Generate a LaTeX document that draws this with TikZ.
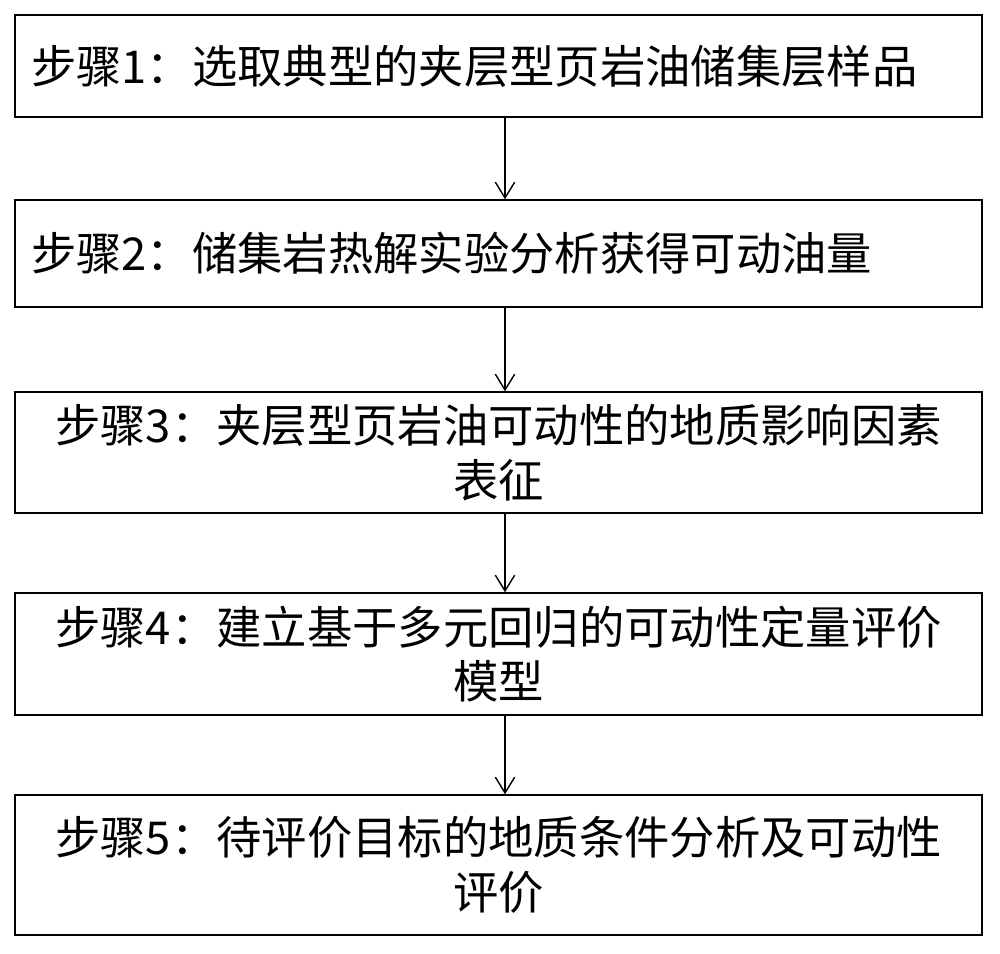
\documentclass[tikz,border=0pt]{standalone}
\usepackage{fontspec}
\setmainfont{Noto Sans CJK SC}
\usetikzlibrary{arrows.meta}
\begin{document}
\begin{tikzpicture}[x=0.02cm,y=-0.02cm,
  box/.style={draw,line width=0.8pt,minimum width=19.34cm,text width=18.7cm,inner xsep=0.32cm,
    font=\fontsize{25.8}{31}\selectfont},
  arr/.style={line width=0.8pt,-{Straight Barb[length=9pt,width=11pt]}}]
\useasboundingbox (0,0) rectangle (1000,953);
\node[box,minimum height=2.04cm,align=left] (b1) at (498.5,66) {步骤1：选取典型的夹层型页岩油储集层样品};
\node[box,minimum height=2.14cm,align=left] (b2) at (498.5,253.5) {步骤2：储集岩热解实验分析获得可动油量};
\node[box,minimum height=2.42cm,align=center] (b3) at (498.5,452.5) {步骤3：夹层型页岩油可动性的地质影响因素\\表征};
\node[box,minimum height=2.44cm,align=center] (b4) at (498.5,654) {步骤4：建立基于多元回归的可动性定量评价\\模型};
\node[box,minimum height=2.8cm,align=center] (b5) at (498.5,865) {步骤5：待评价目标的地质条件分析及可动性\\评价};
\coordinate (ax) at (505,0);
\draw[arr] (b1.south -| ax) -- (b2.north -| ax);
\draw[arr] (b2.south -| ax) -- (b3.north -| ax);
\draw[arr] (b3.south -| ax) -- (b4.north -| ax);
\draw[arr] (b4.south -| ax) -- (b5.north -| ax);
\end{tikzpicture}
\end{document}
